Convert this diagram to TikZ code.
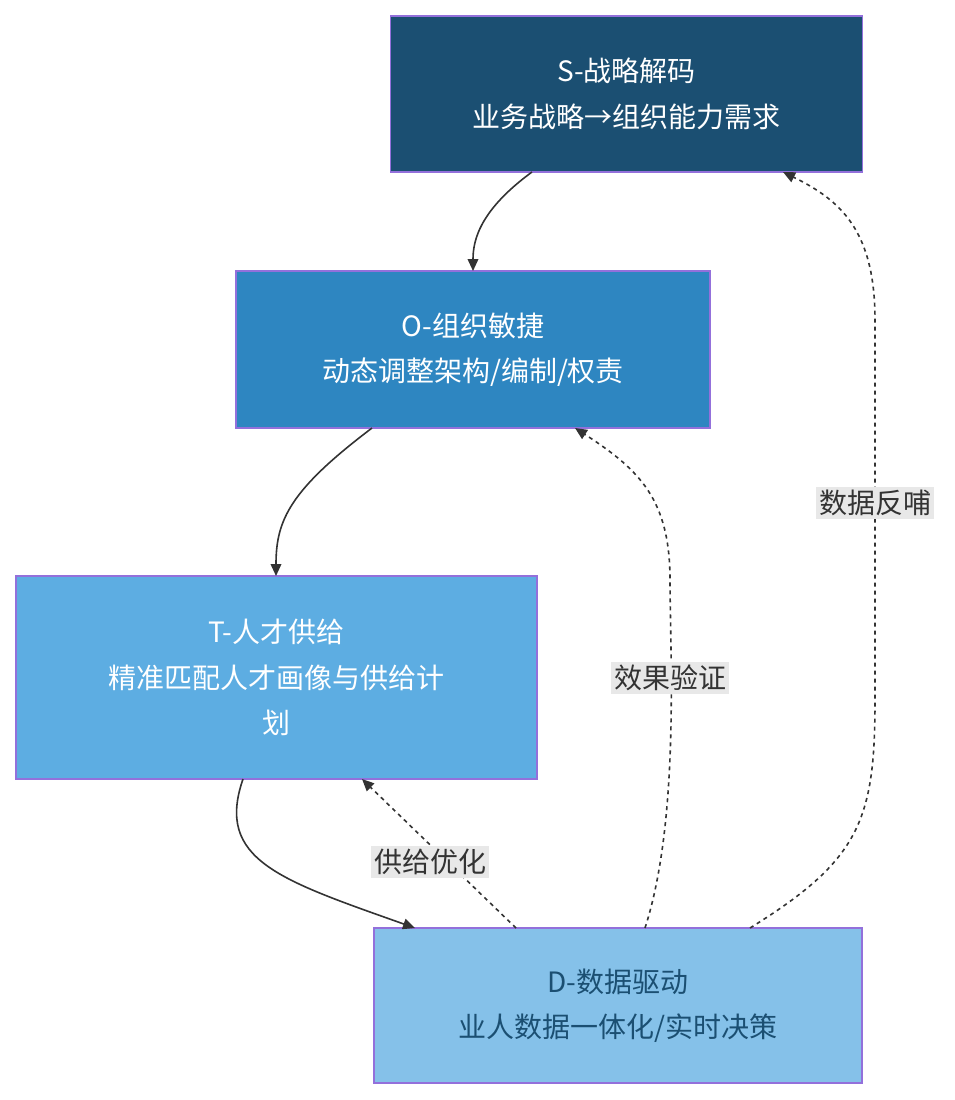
\documentclass[tikz,border=0pt]{standalone}
\usepackage{fontspec}
\setmainfont{Noto Sans CJK SC}
\usetikzlibrary{arrows.meta}
\definecolor{cS}{HTML}{1B4F72}
\definecolor{cO}{HTML}{2E86C1}
\definecolor{cT}{HTML}{5DADE2}
\definecolor{cD}{HTML}{85C1E9}
\definecolor{bd}{HTML}{9370DB}
\definecolor{ln}{HTML}{333333}
\begin{document}
\begin{tikzpicture}[x=0.75pt,y=-0.75pt,
 box/.style={draw=bd,line width=1pt,align=center,inner sep=0pt,font=\fontsize{21}{34}\selectfont},
 ed/.style={draw=ln,line width=1.2pt,-{Triangle[length=9pt,width=8pt]}},
 dsh/.style={ed,dash pattern=on 3pt off 3pt},
 lb/.style={fill=black!9,text=ln,inner sep=2pt,font=\fontsize{21}{26}\selectfont}]
\path[use as bounding box] (0,0) rectangle (955,1100);
\node[box,fill=cS,text=white,minimum width=354pt,minimum height=117pt] (S) at (626.5,94) {S-战略解码\\业务战略→组织能力需求};
\node[box,fill=cO,text=white,minimum width=355.5pt,minimum height=117.75pt] (O) at (473,349.5) {O-组织敏捷\\动态调整架构/编制/权责};
\node[box,fill=cT,text=white,minimum width=390.75pt,minimum height=152.25pt] (T) at (276.5,677.5) {T-人才供给\\精准匹配人才画像与供给计\\划};
\node[box,fill=cD,text=cS,minimum width=366pt,minimum height=116.25pt] (D) at (618,1005.5) {D-数据驱动\\业人数据一体化/实时决策};
\coordinate (s1) at (532,172); \coordinate (o1) at (473,271);
\draw[ed] (s1) .. controls (480,210) and (473,240) .. (o1);
\coordinate (o2) at (372,428); \coordinate (t1) at (276,576);
\draw[ed] (o2) .. controls (290,490) and (276,520) .. (t1);
\coordinate (t2) at (243,779); \coordinate (d1) at (415,928);
\draw[ed] (t2) .. controls (215,860) and (280,880) .. (d1);
\coordinate (d2) at (516,928); \coordinate (t3) at (362,779);
\draw[dsh] (d2) -- (t3);
\node[lb] (l1) at (430,862) {供给优化};
\coordinate (d3) at (645,928); \coordinate (o3) at (575,428);
\draw[dsh] (d3) .. controls (680,820) and (670,650) .. (670,580) .. controls (670,500) and (640,470) .. (o3);
\node[lb] (l2) at (670,678) {效果验证};
\coordinate (d4) at (750,928); \coordinate (s3) at (783,172);
\draw[dsh] (d4) .. controls (860,860) and (875,820) .. (875,700) -- (875,320) .. controls (875,230) and (840,200) .. (s3);
\node[lb] (l3) at (875,503) {数据反哺};
\end{tikzpicture}
\end{document}
